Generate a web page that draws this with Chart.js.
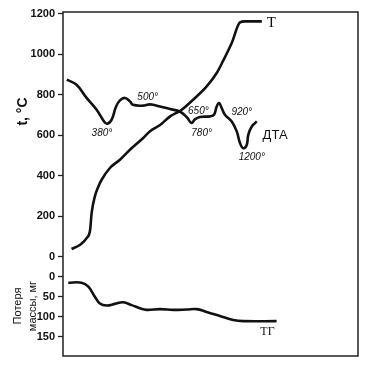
<!DOCTYPE html>
<html><head><meta charset="utf-8">
<style>html,body{margin:0;padding:0;background:#fff;}canvas{display:block;}</style>
<script src="https://cdn.jsdelivr.net/npm/chart.js@4"></script>
</head><body>
<canvas id="c" width="384" height="368"></canvas>
<script>
// Time axis (arbitrary units, no ticks shown)
const timeT = [2.9, 5.8, 8.0, 9.2, 9.7, 10.8, 12.0, 13.1, 15.9, 19.3, 22.7, 27.1, 29.5, 32.9, 36.3, 39.9, 44.1, 48.7, 52.1, 54.2, 57.2, 60.0, 61.7, 67.4];
const tempT = [38, 59, 92, 133, 215, 298, 347, 380, 438, 479, 528, 585, 619, 650, 693, 722, 775, 841, 907, 965, 1055, 1157, 1162, 1162];

const timeDTA = [1.3, 4.6, 8.0, 11.4, 13.9, 15.0, 16.5, 18.0, 19.3, 21.0, 22.7, 23.7, 27.1, 29.5, 32.9, 36.3, 39.7, 41.9, 43.6, 44.7, 46.4, 49.8, 51.2, 52.1, 52.9, 53.8, 54.9, 57.2, 58.9, 60.0, 61.1, 62.3, 62.8, 64.0, 65.7];
const valDTA = [874, 849, 784, 726, 668, 657, 677, 742, 772, 784, 767, 750, 746, 752, 742, 729, 716, 690, 660, 678, 690, 693, 701, 742, 759, 734, 701, 668, 619, 561, 536, 553, 602, 643, 668];

const timeTG = [1.8, 6.3, 8.6, 10.8, 12.5, 14.8, 17.6, 20.4, 23.3, 26.1, 28.4, 32.9, 37.4, 41.9, 45.3, 48.7, 53.2, 57.7, 61.1, 72.4];
const lossTG = [15, 15, 25, 50, 67, 72, 68, 64, 71, 79, 83, 81, 83, 82, 81, 88, 98, 108, 111, 111];

const tempTicks = [0, 200, 400, 600, 800, 1000, 1200];
const lossTicks = [0, 50, 100, 150];

const noteTexts = ['380°', '500°', '650°', '780°', '920°', '1200°'];
const noteTime = [13.2, 28.7, 45.9, 47.0, 60.6, 64.0];
const noteTemp = [611, 790, 716, 612, 713, 491];

const curveNames = ['T', 'ДТА', 'ТГ'];
const curveNameTime = [70.6, 71.9, 69.3];
const curveNameVal = [1155, 601, 137];
const curveNameAxis = ['yT', 'yT', 'yM'];

const pts = (xs, ys) => xs.map((x, i) => ({x: x, y: ys[i]}));

const framePlugin = {
  id: 'frame',
  afterDraw(chart) {
    const {ctx, chartArea: a} = chart;
    ctx.save();
    ctx.strokeStyle = '#222';
    ctx.lineWidth = 1.5;
    ctx.strokeRect(a.left, a.top, a.right - a.left, a.bottom - a.top);
    ctx.restore();
  }
};

const notesPlugin = {
  id: 'notes',
  afterDatasetsDraw(chart) {
    const {ctx, scales} = chart;
    ctx.save();
    ctx.fillStyle = '#111';
    ctx.textAlign = 'center';
    ctx.textBaseline = 'middle';
    ctx.font = 'italic 10px "Liberation Sans", Arial, sans-serif';
    noteTexts.forEach((t, i) => {
      ctx.fillText(t, scales.x.getPixelForValue(noteTime[i]), scales.yT.getPixelForValue(noteTemp[i]));
    });
    const fonts = ['15px "Liberation Serif", serif', '13px "Liberation Sans", Arial, sans-serif', '12px "Liberation Serif", serif'];
    curveNames.forEach((t, i) => {
      ctx.font = fonts[i];
      ctx.fillText(t, scales.x.getPixelForValue(curveNameTime[i]), scales[curveNameAxis[i]].getPixelForValue(curveNameVal[i]));
    });
    ctx.restore();
  }
};

const tickFont = {family: '"Liberation Sans Narrow", "Liberation Sans", Arial, sans-serif', size: 11, weight: 'bold'};

new Chart(document.getElementById('c'), {
  type: 'line',
  data: {
    datasets: [
      {label: curveNames[0], data: pts(timeT, tempT), yAxisID: 'yT', borderColor: '#111', borderWidth: 2.6, pointRadius: 0, cubicInterpolationMode: 'monotone', fill: false},
      {label: curveNames[1], data: pts(timeDTA, valDTA), yAxisID: 'yT', borderColor: '#111', borderWidth: 2.6, pointRadius: 0, tension: 0.4, fill: false},
      {label: curveNames[2], data: pts(timeTG, lossTG), yAxisID: 'yM', borderColor: '#111', borderWidth: 2.6, pointRadius: 0, tension: 0.4, fill: false}
    ]
  },
  options: {
    responsive: false,
    animation: false,
    events: [],
    layout: {padding: {top: 12, right: 26, bottom: 12, left: 0}},
    plugins: {legend: {display: false}, tooltip: {enabled: false}},
    scales: {
      x: {type: 'linear', min: 0, max: 100, display: false},
      yM: {
        type: 'linear', position: 'left', stack: 'v', stackWeight: 89,
        reverse: true, min: -24.25, max: 198.25,
        afterBuildTicks: s => { s.ticks = lossTicks.map(v => ({value: v})); },
        afterFit: s => { s.width = 63; },
        ticks: {font: tickFont, color: '#111', padding: 3, autoSkip: false, callback: v => String(v)},
        grid: {drawOnChartArea: false, tickLength: 5, color: '#222', tickWidth: 1.3},
        border: {display: false},
        title: {display: true, text: ['\u2003Потеря', '\u2003массы, мг'], color: '#111',
                font: {family: '"Liberation Sans", Arial, sans-serif', size: 11, lineHeight: 1.35}, padding: {top: 10.6, bottom: 0}}
      },
      yT: {
        type: 'linear', position: 'left', stack: 'v', stackWeight: 255,
        min: -50.9, max: 1208.4,
        afterBuildTicks: s => { s.ticks = tempTicks.map(v => ({value: v})); },
        afterFit: s => { s.width = 63; },
        ticks: {font: tickFont, color: '#111', padding: 3, autoSkip: false, callback: v => String(v)},
        grid: {drawOnChartArea: false, tickLength: 5, color: '#222', tickWidth: 1.3},
        border: {display: false},
        title: {display: true, text: '\u2003\u2003\u2003\u2003t, °C', color: '#111',
                font: {family: '"Liberation Sans", Arial, sans-serif', size: 14, weight: 'bold', lineHeight: 1.2}, padding: {top: 14.6, bottom: 0}}
      }
    }
  },
  plugins: [framePlugin, notesPlugin]
});
</script>
</body></html>
